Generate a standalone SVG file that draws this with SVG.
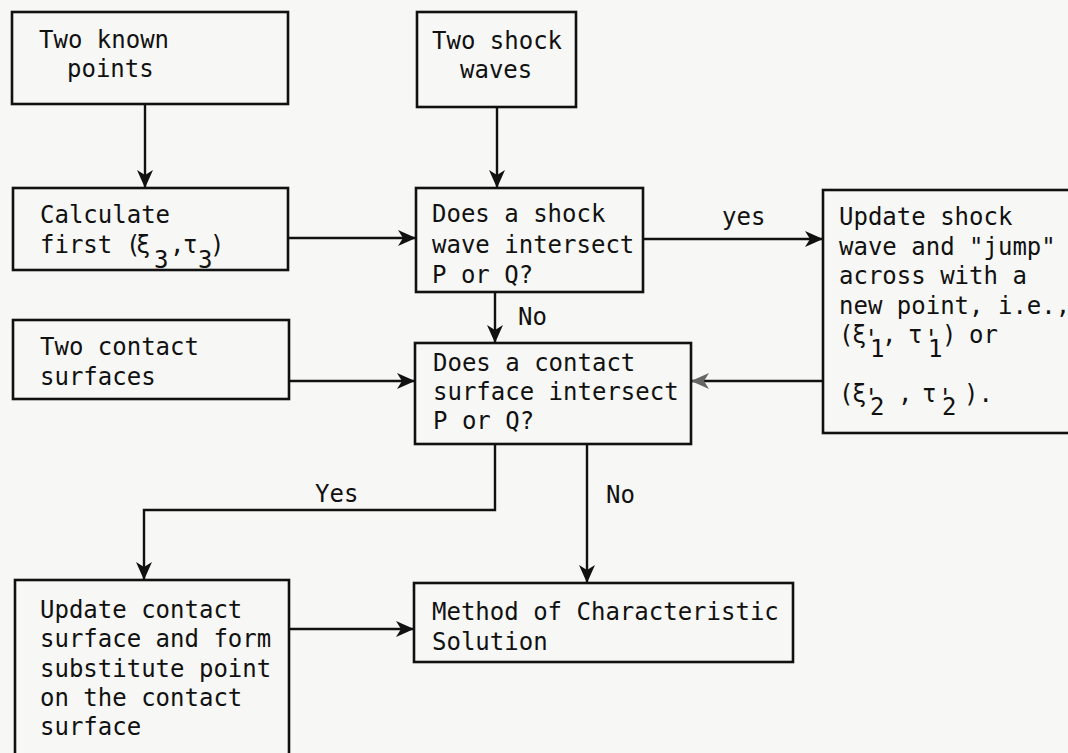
<svg xmlns="http://www.w3.org/2000/svg" width="1068" height="753" viewBox="0 0 1068 753">
<style>
.bg{fill:#f7f7f5}
.box{fill:none;stroke:#111;stroke-width:2.6}
.con{fill:none;stroke:#111;stroke-width:2.4}
text{font-family:"DejaVu Sans Mono","Liberation Mono",monospace;font-size:24px;fill:#111}
</style>
<defs>
<marker id="ah" markerUnits="userSpaceOnUse" markerWidth="18" markerHeight="16" viewBox="0 0 18 16" refX="17" refY="8" orient="auto">
<path d="M0,0 L18,8 L0,16 L5,8 z" fill="#111"/>
</marker>
<marker id="ahg" markerUnits="userSpaceOnUse" markerWidth="18" markerHeight="16" viewBox="0 0 18 16" refX="17" refY="8" orient="auto">
<path d="M0,0 L18,8 L0,16 L5,8 z" fill="#666"/>
</marker>
</defs>
<rect class="bg" x="0" y="0" width="1068" height="753"/>

<g id="connectors">
<line class="con" x1="145" y1="104" x2="145" y2="187" marker-end="url(#ah)"/>
<line class="con" x1="497" y1="107" x2="497" y2="187" marker-end="url(#ah)"/>
<line class="con" x1="288" y1="238" x2="415" y2="238" marker-end="url(#ah)"/>
<line class="con" x1="643" y1="239" x2="822" y2="239" marker-end="url(#ah)"/>
<text x="722" y="225">yes</text>
<line class="con" x1="495" y1="292" x2="495" y2="342" marker-end="url(#ah)"/>
<text x="518" y="325">No</text>
<line class="con" x1="289" y1="381" x2="414" y2="381" marker-end="url(#ah)"/>
<line class="con" x1="823" y1="381" x2="692" y2="381" marker-end="url(#ahg)"/>
<polyline class="con" points="495,444 495,510 144,510 144,579" marker-end="url(#ah)"/>
<text x="315" y="502">Yes</text>
<line class="con" x1="587" y1="444" x2="587" y2="582" marker-end="url(#ah)"/>
<text x="606" y="503">No</text>
<line class="con" x1="289" y1="629" x2="413" y2="629" marker-end="url(#ah)"/>
</g>

<g id="n-known">
<rect class="box" x="12" y="12" width="276" height="92"/>
<text x="39" y="48">Two known</text>
<text x="67" y="77">points</text>
</g>

<g id="n-shock">
<rect class="box" x="417" y="12" width="159" height="95"/>
<text x="432" y="49">Two shock</text>
<text x="460" y="78">waves</text>
</g>

<g id="n-calc">
<rect class="box" x="13" y="188" width="275" height="82"/>
<text x="40" y="223">Calculate</text>
<text x="40" y="253">first <tspan x="126">(</tspan><tspan x="136">ξ</tspan><tspan x="154" y="268">3</tspan><tspan x="170" y="253">,</tspan><tspan x="183">τ</tspan><tspan x="198" y="268">3</tspan><tspan x="210" y="253">)</tspan></text>
</g>

<g id="n-doesshock">
<rect class="box" x="416" y="188" width="227" height="104"/>
<text x="432" y="222">Does a shock</text>
<text x="432" y="253">wave intersect</text>
<text x="432" y="283">P or Q?</text>
</g>

<g id="n-updshock">
<rect class="box" x="823" y="190" width="260" height="243"/>
<text x="839" y="225">Update shock</text>
<text x="839" y="255">wave and "jump"</text>
<text x="839" y="284">across with a</text>
<text x="839" y="314">new point, i.e.,</text>
<text x="839" y="343">(<tspan x="852">ξ</tspan><tspan x="864" y="347">'</tspan><tspan x="870" y="357">1</tspan><tspan x="882" y="343">,</tspan><tspan x="908">τ</tspan><tspan x="924" y="347">'</tspan><tspan x="928" y="357">1</tspan><tspan x="942" y="343">)</tspan><tspan x="969">or</tspan></text>
<text x="839" y="402">(<tspan x="852">ξ</tspan><tspan x="864" y="406">'</tspan><tspan x="870" y="415">2</tspan><tspan x="898" y="402">,</tspan><tspan x="922">τ</tspan><tspan x="938" y="406">'</tspan><tspan x="942" y="415">2</tspan><tspan x="964" y="402">).</tspan></text>
</g>

<g id="n-contacts">
<rect class="box" x="13" y="320" width="276" height="79"/>
<text x="40" y="355">Two contact</text>
<text x="40" y="385">surfaces</text>
</g>

<g id="n-doescontact">
<rect class="box" x="415" y="343" width="276" height="101"/>
<text x="433" y="371">Does a contact</text>
<text x="433" y="400">surface intersect</text>
<text x="433" y="429">P or Q?</text>
</g>

<g id="n-updcontact">
<rect class="box" x="15" y="580" width="274" height="190"/>
<text x="40" y="618">Update contact</text>
<text x="40" y="647">surface and form</text>
<text x="40" y="677">substitute point</text>
<text x="40" y="706">on the contact</text>
<text x="40" y="735">surface</text>
</g>

<g id="n-method">
<rect class="box" x="414" y="583" width="379" height="79"/>
<text x="432" y="620">Method of Characteristic</text>
<text x="432" y="650">Solution</text>
</g>
</svg>
